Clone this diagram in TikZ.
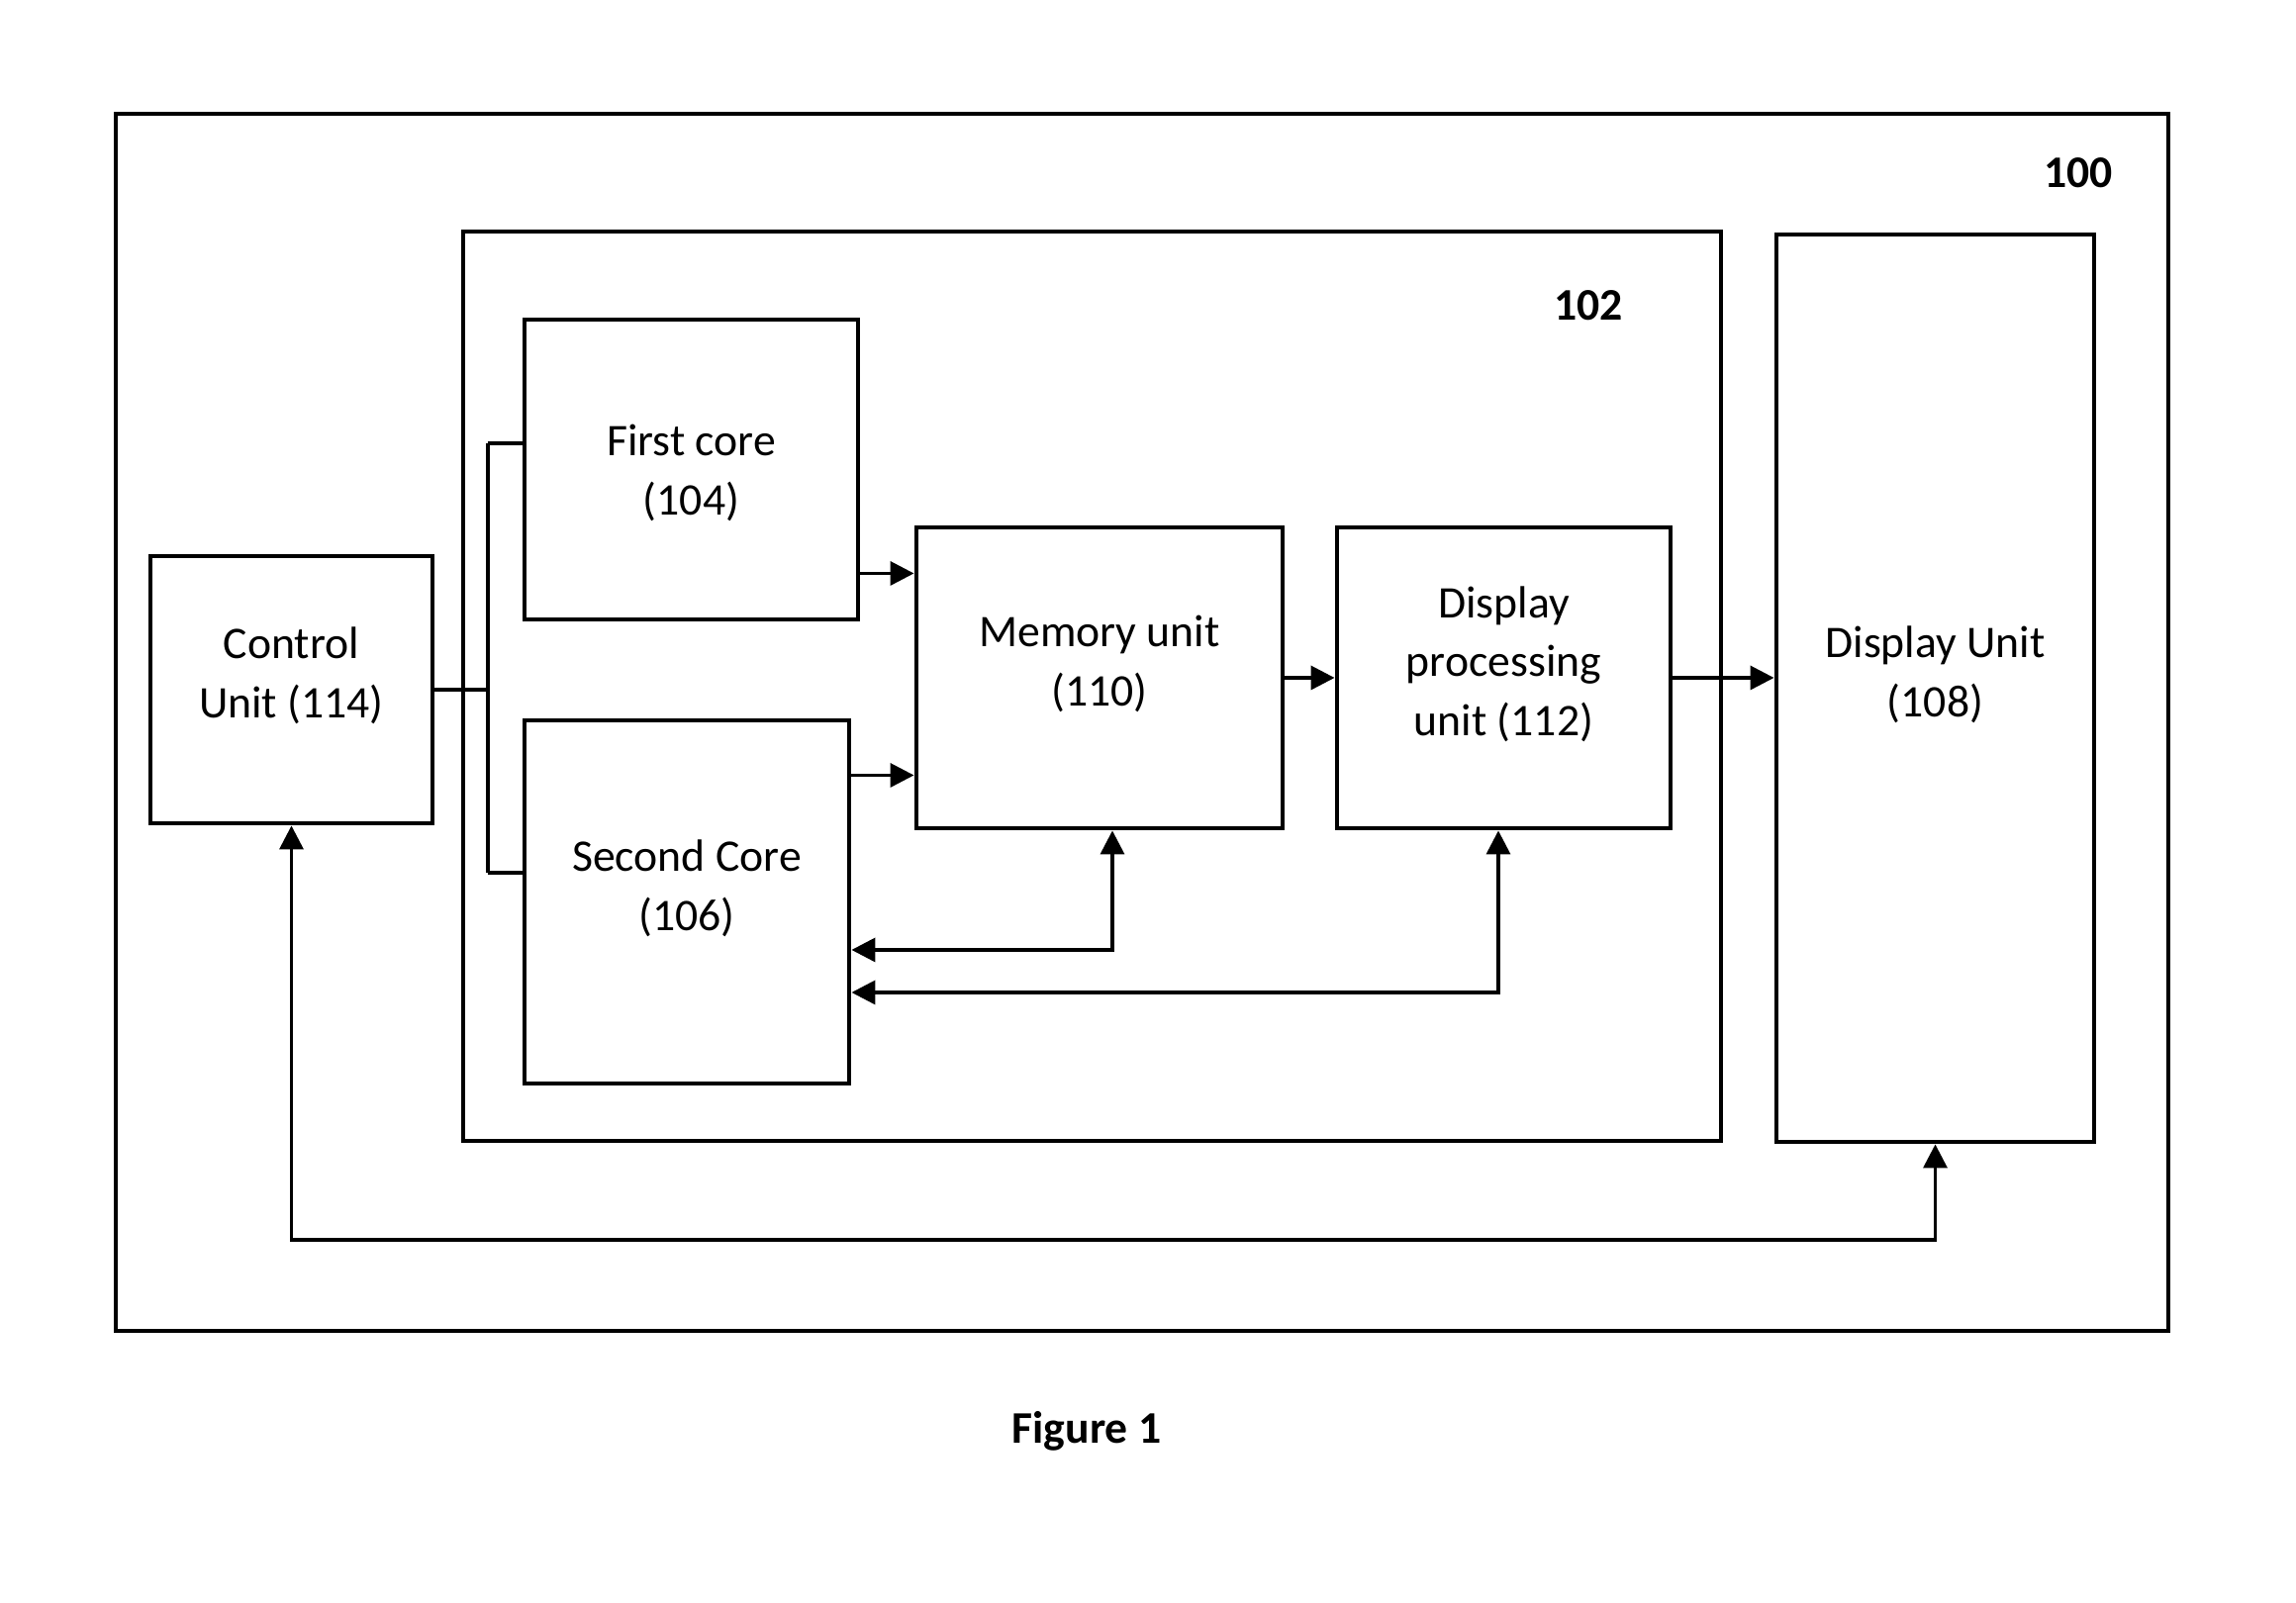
\documentclass[tikz,border=0pt]{standalone}
\usepackage{fontspec}
\setmainfont{Carlito}
\usepackage{tikz}
\usetikzlibrary{arrows.meta,calc}

\begin{document}
\begin{tikzpicture}[
  box/.style={draw, line width=1.4pt, align=center, inner sep=0pt,
    font=\fontsize{13}{17}\selectfont},
  raised/.style={text depth=0.34cm},
  wire/.style={line width=1pt},
  arr/.style={wire, -{Triangle[length=0.24cm,width=0.24cm]}},
  dbl/.style={wire, {Triangle[length=0.24cm,width=0.24cm]}-{Triangle[length=0.24cm,width=0.24cm]}},
  tag/.style={font=\fontsize{13}{17}\selectfont\bfseries}
]
  \useasboundingbox (0,0) rectangle (23.2,16.2);

  % frames
  \node[box, minimum width=20.74cm, minimum height=12.30cm] (sys) at (11.54,8.90) {};
  \node[tag] (n100) at (21.00,14.45) {100};
  \node[box, minimum width=12.71cm, minimum height=9.19cm] (soc) at (11.035,9.265) {};
  \node[tag] (n102) at (16.05,13.11) {102};

  % blocks
  \node[box, text depth=0pt, minimum width=3.37cm, minimum height=3.03cm] (core1) at (6.985,11.455) {First core\\(104)};
  \node[box, raised, minimum width=3.28cm, minimum height=3.67cm] (core2) at (6.94,7.085) {Second Core\\(106)};
  \node[box, raised, minimum width=3.70cm, minimum height=3.04cm] (mem) at (11.11,9.35) {Memory unit\\(110)};
  \node[box, raised, minimum width=3.37cm, minimum height=3.04cm] (dpu) at (15.195,9.35) {Display\\processing\\unit (112)};
  \node[box, raised, minimum width=3.21cm, minimum height=9.17cm] (disp) at (19.555,9.245) {Display Unit\\(108)};
  \node[box, raised, minimum width=2.85cm, minimum height=2.70cm] (ctrl) at (2.945,9.23) {Control\\Unit (114)};

  % control bus
  \coordinate (bus1) at (4.93,11.72);
  \coordinate (bus2) at (4.93,7.38);
  \draw[wire] (ctrl.east) -- (ctrl.east -| bus1);
  \draw[wire] (bus1) -- (bus2);
  \draw[wire] (bus1) -- (bus1 -| core1.west);
  \draw[wire] (bus2) -- (bus2 -| core2.west);

  % data paths
  \draw[arr] ([yshift=-1.05cm]core1.east) -- ([yshift=-1.05cm]core1.east -| mem.west);
  \draw[arr] ([yshift=1.28cm]core2.east) -- ([yshift=1.28cm]core2.east -| mem.west);
  \draw[arr] (mem.east) -- (dpu.west);
  \draw[arr] (dpu.east) -- (dpu.east -| disp.west);

  % feedback to second core
  \coordinate (m1) at (11.24,6.60);
  \coordinate (d1) at (15.14,6.17);
  \draw[dbl] (mem.south -| m1) -- (m1) -- (m1 -| core2.east);
  \draw[dbl] (dpu.south -| d1) -- (d1) -- (d1 -| core2.east);

  % control to display
  \coordinate (c1) at (2.96,3.67);
  \draw[dbl] (ctrl.south) -- (ctrl.south |- c1) -- (c1 -| disp.south) -- (disp.south);

  \node[tag] (fig) at (10.98,1.74) {Figure 1};
\end{tikzpicture}
\end{document}
